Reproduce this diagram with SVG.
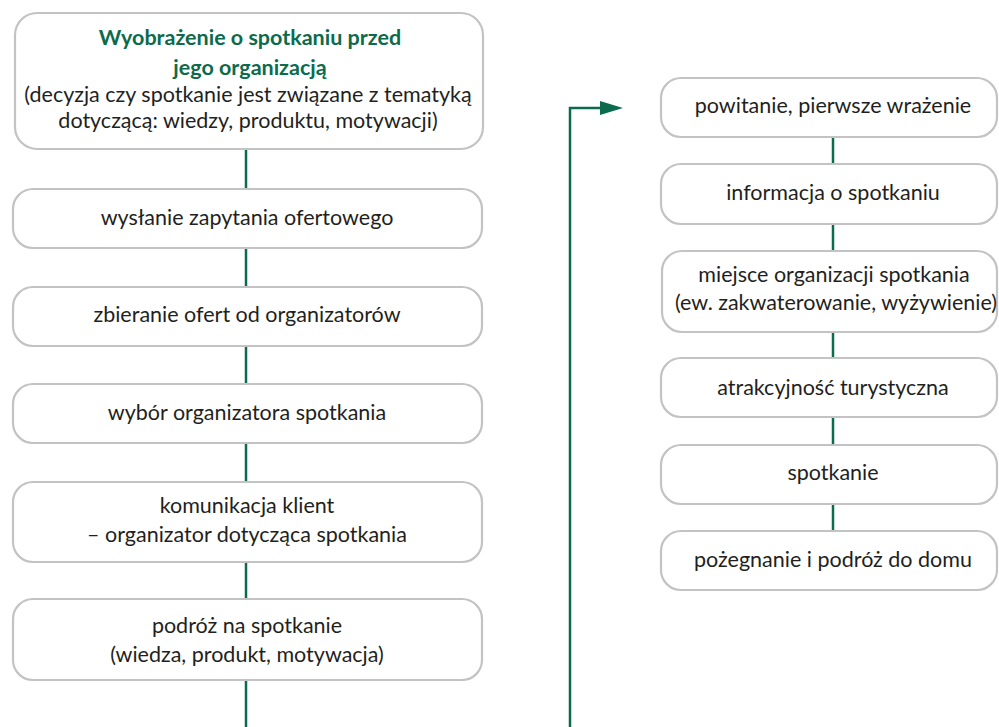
<svg xmlns="http://www.w3.org/2000/svg" width="999" height="727" viewBox="0 0 999 727">
<style>
.box{fill:#fff;stroke:#c3c3c3;stroke-width:2.2}
.t{font-family:Lato,"Open Sans",sans-serif;font-size:21.5px;fill:#231f20;text-anchor:middle}
.h{font-family:Lato,"Open Sans",sans-serif;font-size:21.5px;font-weight:bold;fill:#0b6b4c;text-anchor:middle}
.c{stroke:#0b6b4c;stroke-width:2.5;fill:none}
</style>
<rect width="999" height="727" fill="#fff"/>
<g id="connectors">
<line class="c" x1="246" y1="149" x2="246" y2="189"/>
<line class="c" x1="246" y1="248" x2="246" y2="287"/>
<line class="c" x1="246" y1="346" x2="246" y2="384"/>
<line class="c" x1="246" y1="443" x2="246" y2="482"/>
<line class="c" x1="246" y1="562" x2="246" y2="599"/>
<line class="c" x1="246" y1="680" x2="246" y2="727"/>
<line class="c" x1="833" y1="137" x2="833" y2="164"/>
<line class="c" x1="833" y1="224" x2="833" y2="251"/>
<line class="c" x1="833" y1="332" x2="833" y2="358"/>
<line class="c" x1="833" y1="417" x2="833" y2="445"/>
<line class="c" x1="833" y1="504" x2="833" y2="531"/>
<path class="c" d="M570,727 L570,108 L601,108"/>
<path d="M600,101 L623,108 L600,115 Z" fill="#0b6b4c"/>
</g>
<g id="n1"><rect class="box" x="15" y="13" width="468" height="136" rx="22"/>
<text class="h" x="250" y="45">Wyobrażenie o spotkaniu przed</text>
<text class="h" x="250" y="75">jego organizacją</text>
<text class="t" x="248" y="102">(decyzja czy spotkanie jest związane z tematyką</text>
<text class="t" x="248" y="128">dotyczącą: wiedzy, produktu, motywacji)</text></g>
<g id="n2"><rect class="box" x="13" y="189" width="469" height="59" rx="20"/>
<text class="t" x="247" y="225">wysłanie zapytania ofertowego</text></g>
<g id="n3"><rect class="box" x="13" y="287" width="469" height="59" rx="20"/>
<text class="t" x="247" y="322">zbieranie ofert od organizatorów</text></g>
<g id="n4"><rect class="box" x="13" y="384" width="469" height="59" rx="20"/>
<text class="t" x="247" y="420">wybór organizatora spotkania</text></g>
<g id="n5"><rect class="box" x="13" y="482" width="469" height="80" rx="20"/>
<text class="t" x="247" y="513">komunikacja klient</text>
<text class="t" x="247" y="542">– organizator dotycząca spotkania</text></g>
<g id="n6"><rect class="box" x="13" y="599" width="469" height="81" rx="20"/>
<text class="t" x="247" y="633">podróż na spotkanie</text>
<text class="t" x="247" y="662">(wiedza, produkt, motywacja)</text></g>
<g id="r1"><rect class="box" x="661" y="78" width="336" height="59" rx="20"/>
<text class="t" x="833" y="113">powitanie, pierwsze wrażenie</text></g>
<g id="r2"><rect class="box" x="661" y="164" width="336" height="60" rx="20"/>
<text class="t" x="833" y="200">informacja o spotkaniu</text></g>
<g id="r3"><rect class="box" x="662" y="251" width="335" height="81" rx="20"/>
<text class="t" x="834" y="282">miejsce organizacji spotkania</text>
<text class="t" x="836" y="310">(ew. zakwaterowanie, wyżywienie)</text></g>
<g id="r4"><rect class="box" x="661" y="358" width="336" height="59" rx="20"/>
<text class="t" x="833" y="395">atrakcyjność turystyczna</text></g>
<g id="r5"><rect class="box" x="661" y="445" width="336" height="59" rx="20"/>
<text class="t" x="833" y="480">spotkanie</text></g>
<g id="r6"><rect class="box" x="661" y="531" width="336" height="59" rx="20"/>
<text class="t" x="833" y="567">pożegnanie i podróż do domu</text></g>
</svg>
